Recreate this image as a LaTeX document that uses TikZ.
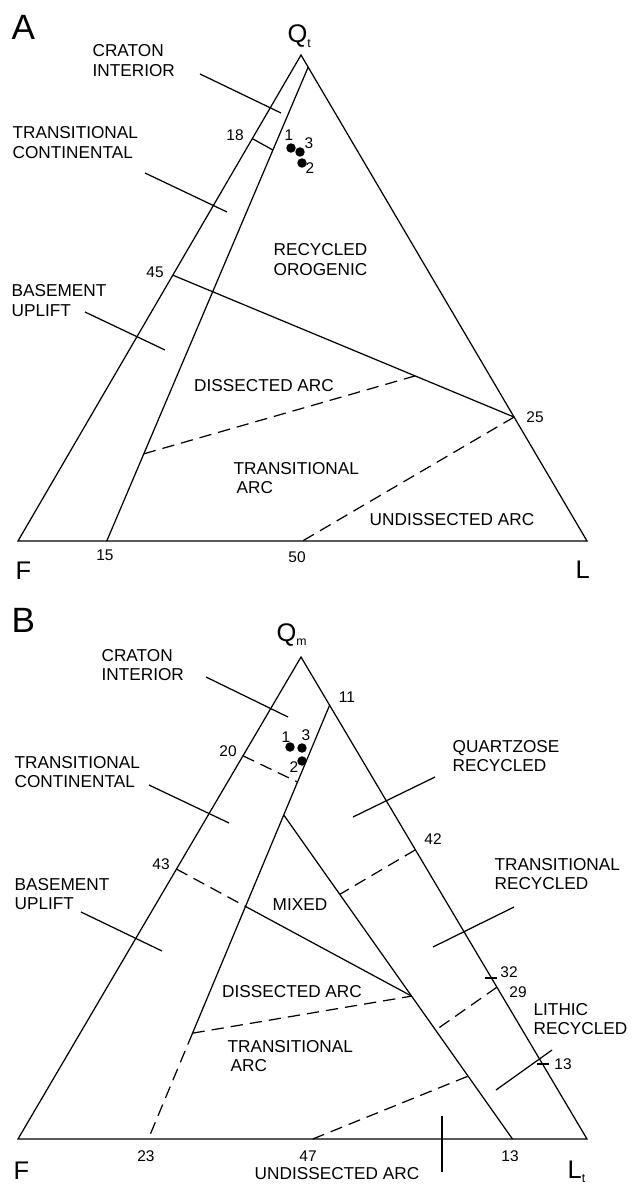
\documentclass[tikz,border=0pt]{standalone}
\usepackage{fontspec}
\setmainfont{Liberation Sans}
\usetikzlibrary{calc}
\newcommand{\apexsub}[1]{{\fontsize{7}{8}\selectfont\raisebox{-2.5pt}{#1}}}
\tikzset{
    field/.style={font=\fontsize{9.8}{11.3}\selectfont, align=left, inner sep=0pt}, % Provenance fields
    ticklabel/.style={font=\fontsize{8.8}{10}\selectfont, inner sep=0pt}, % Numbers along edges
    pole/.style={font=\fontsize{14.5}{16}\selectfont, inner sep=0pt, anchor=base west},
    panel/.style={font=\fontsize{20}{22}\selectfont, inner sep=0pt, anchor=base west},
    boundary/.style={dash pattern=on 7pt off 4pt}, % Dashed field boundaries
    sample/.style={circle, fill=black, inner sep=0pt, minimum size=5.4pt},
    edgetick/.style={line width=1.2pt}}

\begin{document}
\begin{tikzpicture}[x=0.02cm, y=-0.02cm, line width=0.7pt]
    \useasboundingbox (0,0) rectangle (632,1185);

    % Diagram A: Qt-F-L
    \coordinate (QA) at (301,55);
    \coordinate (FA) at (18,541);
    \coordinate (LA) at (587,541);
    \draw (FA) -- (QA) -- (LA) -- cycle;
    \coordinate (a03) at ($(QA)!0.025!(LA)$);
    \coordinate (a15) at ($(FA)!0.156!(LA)$);
    \coordinate (a18) at ($(QA)!0.172!(FA)$);
    \coordinate (a18b) at ($(a03)!0.175!(a15)$);
    \coordinate (a45) at ($(QA)!0.453!(FA)$);
    \coordinate (a25) at ($(QA)!0.745!(LA)$);
    \coordinate (a50) at ($(FA)!0.5!(LA)$);
    \coordinate (adA) at ($(a03)!0.816!(a15)$);
    \coordinate (adB) at ($(a45)!0.71!(a25)$);
    \draw (a03) -- (a15);
    \draw (a18) -- (a18b);
    \draw (a45) -- (a25);
    \draw[boundary] (adA) -- (adB);
    \draw[boundary] (a25) -- (a50);

    \node[panel] (pA) at (11,40) {A};
    \node[pole] (qA) at (287,43) {Q\apexsub{t}};
    \node[pole] (fA) at (15,579) {F};
    \node[pole] (lA) at (575,578) {L};
    \node[ticklabel] (n18) at (235,135) {18};
    \node[ticklabel] (n45) at (155,272) {45};
    \node[ticklabel] (n25) at (535,417) {25};
    \node[ticklabel] (n15) at (105,555) {15};
    \node[ticklabel] (n50) at (297,557) {50};

    \node[field, anchor=west] (ciA) at (92,61) {CRATON\\INTERIOR};
    \node[field, anchor=west] (tcA) at (12,143) {TRANSITIONAL\\CONTINENTAL};
    \node[field, anchor=west] (roA) at (273,260) {RECYCLED\\OROGENIC};
    \node[field, anchor=west] (buA) at (11,301) {BASEMENT\\UPLIFT};
    \node[field] (daA) at (264,386) {DISSECTED ARC};
    \node[field, anchor=west] (taA) at (233,478) {TRANSITIONAL\\\hspace{1.7pt}ARC};
    \node[field] (uaA) at (452,520) {UNDISSECTED ARC};

    \coordinate (ciA1) at (200,74);  \coordinate (ciA2) at (281,113);
    \coordinate (tcA1) at (145,173); \coordinate (tcA2) at (227,212);
    \coordinate (buA1) at (85,312);  \coordinate (buA2) at (165,350);
    \draw (ciA1) -- (ciA2);
    \draw (tcA1) -- (tcA2);
    \draw (buA1) -- (buA2);

    % Samples A
    \node[sample] (sA1) at (291,148) {};
    \node[sample] (sA3) at (300,152) {};
    \node[sample] (sA2) at (302,163) {};
    \node[ticklabel] (tA1) at (289,135) {1};
    \node[ticklabel] (tA3) at (309,143) {3};
    \node[ticklabel] (tA2) at (310,168) {2};

    % Diagram B: Qm-F-Lt
    \coordinate (QB) at (301,657);
    \coordinate (FB) at (18,1139);
    \coordinate (LB) at (587,1139);
    \draw (FB) -- (QB) -- (LB) -- cycle;
    \coordinate (b11) at ($(QB)!0.10!(LB)$);
    \coordinate (b23) at ($(FB)!0.229!(LB)$);
    \coordinate (b13) at ($(FB)!0.869!(LB)$);
    \coordinate (b47) at ($(FB)!0.518!(LB)$);
    \coordinate (bd1) at ($(b11)!0.756!(b23)$);
    \coordinate (bm) at ($(b11)!0.253!(b23)$);
    \coordinate (b20) at ($(QB)!0.205!(FB)$);
    \coordinate (b20b) at ($(b11)!0.177!(b23)$);
    \coordinate (b43) at ($(QB)!0.44!(FB)$);
    \coordinate (bj) at ($(bm)!0.559!(b13)$);
    \coordinate (bx) at (intersection of b43--bj and b11--b23);
    \coordinate (b42) at ($(QB)!0.40!(LB)$);
    \coordinate (b42b) at ($(bm)!0.245!(b13)$);
    \coordinate (b32) at ($(QB)!0.666!(LB)$);
    \coordinate (b29) at ($(QB)!0.685!(LB)$);
    \coordinate (b29b) at ($(bm)!0.664!(b13)$);
    \coordinate (b13t) at ($(QB)!0.845!(LB)$);
    \coordinate (bu) at ($(bm)!0.806!(b13)$);
    \draw (b11) -- (bd1);
    \draw[boundary] (bd1) -- (b23);
    \draw (bm) -- (b13);
    \draw[boundary] (b20) -- (b20b);
    \draw[boundary] (b43) -- (bx);
    \draw (bx) -- (bj);
    \draw[boundary] (bd1) -- (bj);
    \draw[boundary] (b42) -- (b42b);
    \draw[boundary] (b29) -- (b29b);
    \draw[boundary] (b47) -- (bu);
    \draw[edgetick] ([xshift=-6*0.02cm]b32) -- ([xshift=6*0.02cm]b32);
    \draw[edgetick] ([xshift=-6*0.02cm]b13t) -- ([xshift=6*0.02cm]b13t);

    \node[panel] (pB) at (11,632) {B};
    \node[pole] (qB) at (276,641) {Q\apexsub{m}};
    \node[pole] (fB) at (13,1179) {F};
    \node[pole] (lB) at (567,1178) {L\apexsub{t}};
    \node[ticklabel] (n11) at (347,697) {11};
    \node[ticklabel] (n20) at (228,751) {20};
    \node[ticklabel] (n42) at (433,839) {42};
    \node[ticklabel] (n43) at (161,864) {43};
    \node[ticklabel] (n32) at (509,972) {32};
    \node[ticklabel] (n29) at (518,992) {29};
    \node[ticklabel] (n13r) at (563,1064) {13};
    \node[ticklabel] (n23) at (146,1156) {23};
    \node[ticklabel] (n47) at (308,1156) {47};
    \node[ticklabel] (n13b) at (510,1156) {13};

    \node[field, anchor=west] (ciB) at (101,665) {CRATON\\INTERIOR};
    \node[field, anchor=west] (tcB) at (14,772) {TRANSITIONAL\\CONTINENTAL};
    \node[field, anchor=west] (qrB) at (452,756) {QUARTZOSE\\RECYCLED};
    \node[field, anchor=west] (trB) at (494,874) {TRANSITIONAL\\RECYCLED};
    \node[field, anchor=west] (buB) at (14,894) {BASEMENT\\UPLIFT};
    \node[field] (mxB) at (300,905) {MIXED};
    \node[field] (daB) at (292,992) {DISSECTED ARC};
    \node[field, anchor=west] (lrB) at (533,1019) {LITHIC\\RECYCLED};
    \node[field, anchor=west] (taB) at (227,1056) {TRANSITIONAL\\\hspace{1.7pt}ARC};
    \node[field] (uaB) at (337,1174) {UNDISSECTED ARC};

    \coordinate (ciB1) at (206,677); \coordinate (ciB2) at (288,717);
    \coordinate (tcB1) at (149,785); \coordinate (tcB2) at (229,823);
    \coordinate (qrB1) at (435,777); \coordinate (qrB2) at (353,817);
    \coordinate (trB1) at (514,907); \coordinate (trB2) at (433,947);
    \coordinate (buB1) at (81,912);  \coordinate (buB2) at (162,951);
    \coordinate (lrB1) at (552,1050); \coordinate (lrB2) at (496,1090);
    \coordinate (uaB1) at (442,1116); \coordinate (uaB2) at (442,1172);
    \draw (ciB1) -- (ciB2);
    \draw (tcB1) -- (tcB2);
    \draw (qrB1) -- (qrB2);
    \draw (trB1) -- (trB2);
    \draw (buB1) -- (buB2);
    \draw (lrB1) -- (lrB2);
    \draw (uaB1) -- (uaB2);

    % Samples B
    \node[sample] (sB1) at (290,747) {};
    \node[sample] (sB3) at (302,748) {};
    \node[sample] (sB2) at (302,761) {};
    \node[ticklabel] (tB1) at (286,737) {1};
    \node[ticklabel] (tB3) at (306,735) {3};
    \node[ticklabel] (tB2) at (294,767) {2};
\end{tikzpicture}
\end{document}
